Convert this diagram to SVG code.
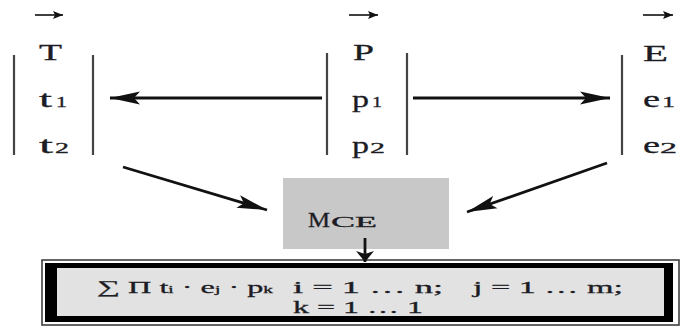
<svg xmlns="http://www.w3.org/2000/svg" width="696" height="328" viewBox="0 0 696 328">
<style>
text{font-family:"Liberation Serif","Times New Roman",serif;fill:#1c1c24;stroke:#1c1c24;stroke-width:0.3}
.lb{font-size:24px}
.sb{font-size:15px}
.bar{stroke:#444;stroke-width:2.2;fill:none}
.con{stroke:#111;stroke-width:2.8;fill:none}
.tiny{stroke:#111;stroke-width:1.6;fill:none}
.ft{font-size:17.5px}
.fs{font-size:10.5px}
</style>
<defs>
<marker id="ah" markerUnits="userSpaceOnUse" markerWidth="32" markerHeight="14" refX="30" refY="7" orient="auto">
<path d="M0,0.5 L30,7 L0,13.5 L6,7 z" fill="#111"/>
</marker>
<marker id="ahd" markerUnits="userSpaceOnUse" markerWidth="12" markerHeight="18" refX="11" refY="9" orient="auto">
<path d="M0,0 L11,9 L0,18 L3,9 z" fill="#111"/>
</marker>
<marker id="aht" markerUnits="userSpaceOnUse" markerWidth="10" markerHeight="8" refX="10" refY="4" orient="auto">
<path d="M0,0 L10,4 L0,8 L2,4 z" fill="#111"/>
</marker>
</defs>

<g id="node-T">
<line class="tiny" x1="35" y1="15" x2="63" y2="15" marker-end="url(#aht)"/>
<line class="bar" x1="14" y1="55" x2="14" y2="155"/>
<line class="bar" x1="93" y1="55" x2="93" y2="155"/>
<text class="lb" x="39" y="60" textLength="23" lengthAdjust="spacingAndGlyphs">T</text>
<text class="lb" x="39" y="107" textLength="13" lengthAdjust="spacingAndGlyphs">t</text>
<text class="sb" x="56" y="107" textLength="11" lengthAdjust="spacingAndGlyphs">1</text>
<text class="lb" x="39" y="153" textLength="14" lengthAdjust="spacingAndGlyphs">t</text>
<text class="sb" x="55" y="153" textLength="14" lengthAdjust="spacingAndGlyphs">2</text>
</g>

<g id="node-P">
<line class="tiny" x1="349" y1="15" x2="378" y2="15" marker-end="url(#aht)"/>
<line class="bar" x1="327" y1="53" x2="327" y2="155"/>
<line class="bar" x1="407" y1="53" x2="407" y2="155"/>
<text class="lb" x="353" y="60" textLength="21" lengthAdjust="spacingAndGlyphs">P</text>
<text class="lb" x="352" y="107" textLength="17" lengthAdjust="spacingAndGlyphs">p</text>
<text class="sb" x="372" y="107" textLength="10" lengthAdjust="spacingAndGlyphs">1</text>
<text class="lb" x="352" y="153" textLength="17" lengthAdjust="spacingAndGlyphs">p</text>
<text class="sb" x="370" y="153" textLength="15" lengthAdjust="spacingAndGlyphs">2</text>
</g>

<g id="node-E">
<line class="tiny" x1="643" y1="15" x2="673" y2="15" marker-end="url(#aht)"/>
<line class="bar" x1="622" y1="55" x2="622" y2="155"/>
<text class="lb" x="643" y="61" textLength="25" lengthAdjust="spacingAndGlyphs">E</text>
<text class="lb" x="643" y="107" textLength="17" lengthAdjust="spacingAndGlyphs">e</text>
<text class="sb" x="662" y="107" textLength="13" lengthAdjust="spacingAndGlyphs">1</text>
<text class="lb" x="643" y="153" textLength="17" lengthAdjust="spacingAndGlyphs">e</text>
<text class="sb" x="660" y="153" textLength="17" lengthAdjust="spacingAndGlyphs">2</text>
</g>

<g id="node-MCE">
<rect x="283" y="178" width="166" height="71" fill="#c8c8c8"/>
<text x="308" y="227" font-size="21" textLength="22" lengthAdjust="spacingAndGlyphs">M</text>
<text x="331" y="227" font-size="14" textLength="46" lengthAdjust="spacingAndGlyphs">CE</text>
</g>

<g id="node-formula">
<rect x="42" y="260" width="637" height="65" fill="#fff" stroke="#333" stroke-width="1.5"/>
<rect x="45" y="263" width="628" height="59" fill="#000"/>
<rect x="57" y="268" width="607" height="48" fill="#e2e2e2"/>
<text class="ft" x="97" y="293" textLength="176" lengthAdjust="spacingAndGlyphs">∑ Π t<tspan class="fs">i</tspan> · e<tspan class="fs">j</tspan> · p<tspan class="fs">k</tspan></text>
<text class="ft" x="293" y="293" textLength="150" lengthAdjust="spacingAndGlyphs">i = 1 … n;</text>
<text class="ft" x="473" y="293" textLength="150" lengthAdjust="spacingAndGlyphs">j = 1 … m;</text>
<text class="ft" x="293" y="313" textLength="130" lengthAdjust="spacingAndGlyphs">k = 1 … 1</text>
</g>

<g id="connectors">
<line class="con" x1="322" y1="98" x2="110" y2="98" marker-end="url(#ah)"/>
<line class="con" x1="413" y1="98" x2="610" y2="98" marker-end="url(#ah)"/>
<line class="con" x1="123" y1="167" x2="267" y2="210" marker-end="url(#ah)"/>
<line class="con" x1="607" y1="163" x2="467" y2="212" marker-end="url(#ah)"/>
<line class="con" x1="365" y1="238" x2="365" y2="262" marker-end="url(#ahd)"/>
</g>
</svg>
